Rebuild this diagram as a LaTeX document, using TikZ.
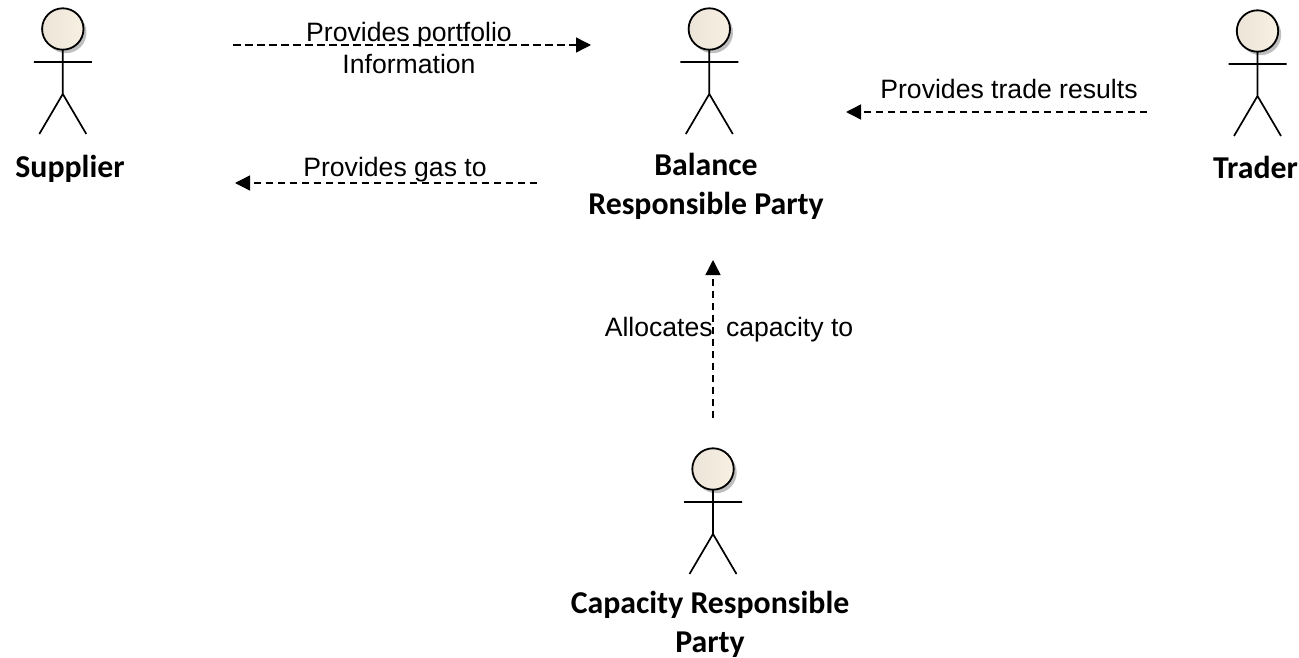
\documentclass[tikz,border=0pt]{standalone}
\usepackage{fontspec}
\setmainfont{Liberation Sans}
\newfontfamily\lblfont{Carlito}
\usetikzlibrary{arrows.meta}
\definecolor{headL}{RGB}{236,228,216}
\definecolor{headM}{RGB}{250,242,228}
\definecolor{headR}{RGB}{248,240,226}
\definecolor{shadowc}{RGB}{190,190,190}
\tikzset{
  x=1pt,y=-1pt,
  link/.style={draw=black,line width=1.4pt,dash pattern=on 7.5pt off 4.5pt,-{Triangle[length=15pt,width=15pt]}},
  msg/.style={font=\fontsize{26.6}{32.5}\selectfont,text=black,inner sep=0pt,align=center},
  actorlabel/.style={font=\lblfont\bfseries\fontsize{31.8}{39}\selectfont,text=black,inner sep=0pt,align=center},
  limb/.style={draw=black,line width=1.7pt},
  actor/.pic={
    \fill[shadowc] (3,3.5) circle (20.7);
    \shade[left color=headL,middle color=headM,right color=headR,draw=black,line width=1.8pt] (0,0) circle (20.7);
    \draw[limb] (0,20.7) -- (0,65) (-29,33) -- (29,33) (-23.5,105) -- (0,65) -- (23.5,105);
  }
}
\begin{document}
\begin{tikzpicture}
\useasboundingbox (0,0) rectangle (1299,658);
\pic at (62.8,29) {actor};
\pic at (709.3,29) {actor};
\pic at (1257.5,31) {actor};
\pic at (713,469) {actor};

\node[actorlabel] (supplier) at (70,168.5) {Supplier};
\node[actorlabel] (brp) at (706,186) {Balance\\Responsible Party};
\node[actorlabel] (trader) at (1255.5,167) {Trader};
\node[actorlabel] (crp) at (710,624) {Capacity Responsible\\Party};

\coordinate (a1) at (233,45);
\coordinate (b1) at (591,45);
\coordinate (a2) at (537,183);
\coordinate (b2) at (235,183);
\coordinate (a3) at (1147,112);
\coordinate (b3) at (846,112);
\coordinate (a4) at (713,418);
\coordinate (b4) at (713,260);

\draw[link] (a1) -- (b1);
\draw[link] (a2) -- (b2);
\draw[link] (a3) -- (b3);
\draw[link] (a4) -- (b4);

\node[msg] (m1) at (409,48) {Provides portfolio\\Information};
\node[msg] (m2) at (395,170) {Provides gas to};
\node[msg] (m3) at (1009,89) {Provides trade results};
\node[msg] (m4) at (729,330) {Allocates\hspace{6pt} capacity to};
\end{tikzpicture}
\end{document}
